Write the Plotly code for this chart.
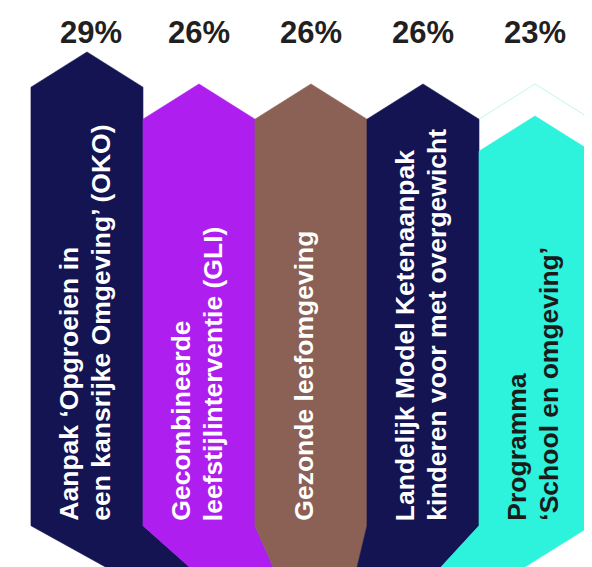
import plotly.graph_objects as go

# ---- data ----
categories = [
    ["Aanpak ‘Opgroeien in", "een kansrijke Omgeving’ (OKO)"],
    ["Gecombineerde", "leefstijlinterventie (GLI)"],
    ["Gezonde leefomgeving"],
    ["Landelijk Model Ketenaanpak", "kinderen voor met overgewicht"],
    ["Programma", "‘School en omgeving’"],
]
values = [29, 26, 26, 26, 23]
outline_values = [None, None, None, None, 26]
bar_colors = ["#141452", "#AD1EEF", "#8A6154", "#141452", "#2DF2DC"]
text_colors = ["#FFFFFF", "#FFFFFF", "#FFFFFF", "#FFFFFF", "#1A1A1A"]

# ---- geometry constants (styling) ----
SHOULDER = 3.3      # height of the arrow tip (in value units)
BASE = -15.4        # bottom of the vertical part
VP = (2.15, -30.8)  # vanishing point of the base perspective
HALF = 0.5

fig = go.Figure()

for i, (v, c) in enumerate(zip(values, bar_colors)):
    xs = [i - HALF, i, i + HALF, i + HALF, VP[0], i - HALF, i - HALF]
    ys = [v - SHOULDER, v, v - SHOULDER, BASE, VP[1], BASE, v - SHOULDER]
    fig.add_trace(go.Scatter(
        x=xs, y=ys, mode="lines", fill="toself", fillcolor=c,
        line=dict(color=c, width=0.6), hoverinfo="skip", showlegend=False,
    ))

for i, ov in enumerate(outline_values):
    if ov is None:
        continue
    fig.add_trace(go.Scatter(
        x=[i - HALF, i, i + HALF], y=[ov - SHOULDER, ov, ov - SHOULDER],
        mode="lines", line=dict(color="#BFF7F1", width=1),
        hoverinfo="skip", showlegend=False,
    ))

annotations = []
for i, v in enumerate(values):
    annotations.append(dict(
        x=i, y=0.957, xref="x", yref="paper", text=f"<b>{v}%</b>", showarrow=False,
        font=dict(family="Liberation Sans, Arial, sans-serif", size=31, color="#231F20"),
        xanchor="center", yanchor="middle", xshift=4 if i == 0 else 0,
    ))

for i, lines in enumerate(categories):
    shifts = [-18, 14] if len(lines) == 2 else [-7]
    for line, sh in zip(lines, shifts):
        annotations.append(dict(
            x=i, y=BASE, xref="x", yref="y", text=f"<b>{line}</b>", showarrow=False,
            textangle=-90, xanchor="center", yanchor="bottom",
            xshift=sh, yshift=3,
            font=dict(family="Liberation Sans, Arial, sans-serif", size=26.5,
                      color=text_colors[i]),
        ))

fig.update_layout(
    width=584, height=559,
    margin=dict(l=0, r=0, t=0, b=0),
    paper_bgcolor="white", plot_bgcolor="white",
    xaxis=dict(range=[-0.705, 4.509], visible=False, fixedrange=True),
    yaxis=dict(range=[-19.27, 33.12], visible=False, fixedrange=True),
    annotations=annotations,
    showlegend=False,
)

fig.write_html("out.html")
